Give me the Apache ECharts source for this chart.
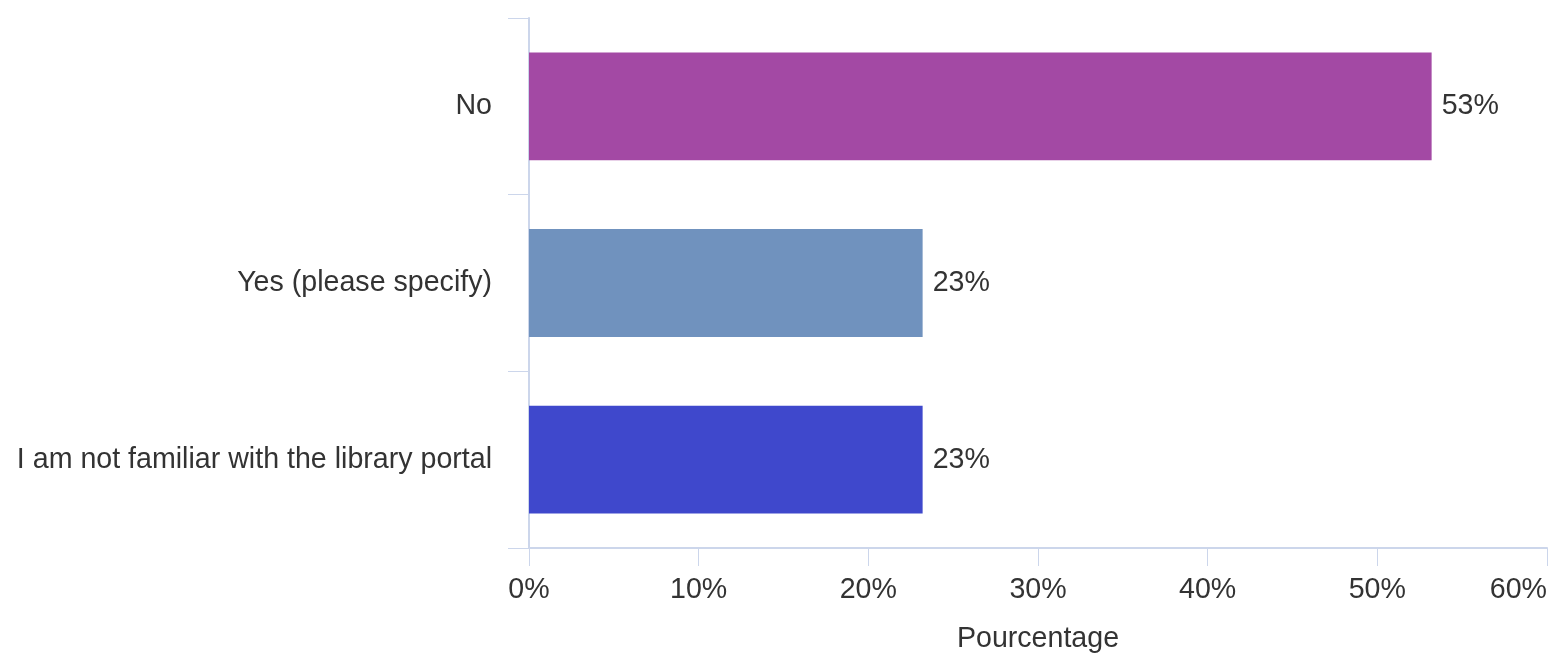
<!DOCTYPE html>
<html>
<head>
<meta charset="utf-8">
<script src="https://cdn.jsdelivr.net/npm/echarts@6/dist/echarts.min.js"></script>
<style>
html,body{margin:0;padding:0;background:#fff;}
#chart{width:1551px;height:657px;}
</style>
</head>
<body>
<div id="chart"></div>
<script>
const categories = ['No', 'Yes (please specify)', 'I am not familiar with the library portal'];
const values = [53.2, 23.2, 23.2];
const barColors = ['#a349a4', '#7092be', '#3f48cc'];
const xTicks = [0, 10, 20, 30, 40, 50, 60];

const font = 'Liberation Sans, Arial, sans-serif';
const axisColor = '#ccd6eb';
const textColor = '#333333';
const fs = 28.6;

const chart = echarts.init(document.getElementById('chart'), null, {renderer: 'canvas'});
chart.setOption({
  animation: false,
  backgroundColor: '#ffffff',
  grid: {left: 529, right: 4, top: 18, bottom: 109, containLabel: false, outerBoundsMode: 'none'},
  xAxis: {
    type: 'value',
    min: xTicks[0],
    max: xTicks[xTicks.length - 1],
    interval: 10,
    name: 'Pourcentage',
    nameLocation: 'middle',
    nameGap: 77,
    nameTextStyle: {fontFamily: font, fontSize: fs, color: textColor},
    axisLine: {show: true, lineStyle: {color: axisColor, width: 2}},
    axisTick: {show: true, length: 18, lineStyle: {color: axisColor, width: 1}},
    splitLine: {show: false},
    axisLabel: {fontFamily: font, fontSize: fs, color: textColor, margin: 28, alignMaxLabel: 'right', hideOverlap: false, formatter: v => v + '%'}
  },
  yAxis: {
    type: 'category',
    data: categories,
    inverse: true,
    axisLine: {show: true, lineStyle: {color: axisColor, width: 2}},
    axisTick: {show: true, length: 21, alignWithLabel: false, lineStyle: {color: axisColor, width: 1}},
    axisLabel: {fontFamily: font, fontSize: fs, color: textColor, margin: 37}
  },
  series: [{
    type: 'bar',
    barCategoryGap: '39%',
    data: values.map((v, i) => ({value: v, itemStyle: {color: barColors[i]}})),
    label: {
      show: true,
      position: 'right',
      distance: 10,
      fontFamily: font,
      fontSize: fs,
      color: textColor,
      formatter: p => Math.round(p.value) + '%'
    }
  }]
});
</script>
</body>
</html>
